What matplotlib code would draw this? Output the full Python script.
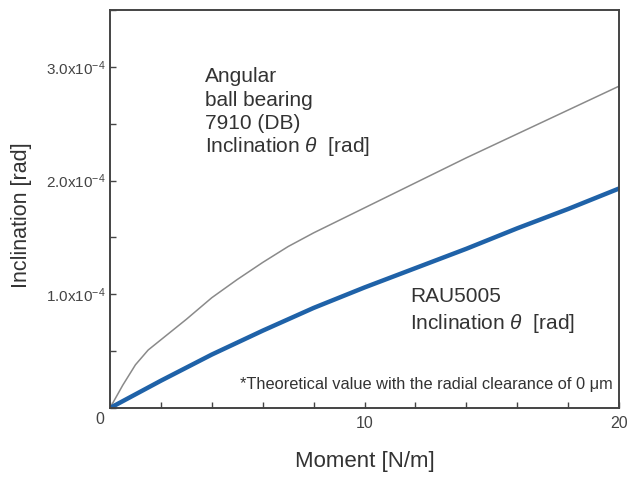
import numpy as np
import matplotlib.pyplot as plt
from matplotlib.ticker import MultipleLocator

plt.rcParams['font.family'] = ['Liberation Sans', 'DejaVu Sans']
plt.rcParams['mathtext.fontset'] = 'custom'
plt.rcParams['mathtext.rm'] = 'Liberation Sans'
plt.rcParams['mathtext.it'] = 'Liberation Sans:italic'

# Moment [N/m]
m_angular = [0, 0.5, 1, 1.5, 2, 3, 4, 5, 6, 7, 8, 10, 12, 14, 16, 18, 20]
# Inclination [x1e-4 rad], angular ball bearing 7910 (DB)
th_angular = [0, 0.2, 0.38, 0.51, 0.6, 0.78, 0.97, 1.13, 1.28, 1.42, 1.54,
              1.76, 1.98, 2.2, 2.41, 2.62, 2.83]
# RAU5005
m_rau = [0, 2, 4, 6, 8, 10, 12, 14, 16, 18, 20]
th_rau = [0, 0.24, 0.47, 0.68, 0.88, 1.06, 1.23, 1.40, 1.58, 1.75, 1.93]

W, H = 635, 483
fig = plt.figure(figsize=(W / 100, H / 100), dpi=100)
ax = fig.add_axes([110 / W, 75 / H, 509 / W, 398 / H])

ax.plot(m_angular, np.array(th_angular) * 1e-4, color='#8a8a8a', lw=1.1)
ax.plot(m_rau, np.array(th_rau) * 1e-4, color='#1f62a8', lw=3.2)

ax.set_xlim(0, 20)
ax.set_ylim(0, 3.5e-4)
ax.set_xticks([10, 20])
ax.set_xticklabels(['10', '20'])
ax.xaxis.set_minor_locator(MultipleLocator(2))
ax.set_yticks([1e-4, 2e-4, 3e-4])
ax.set_yticklabels(['1.0x10$^{-4}$', '2.0x10$^{-4}$', '3.0x10$^{-4}$'])
ax.yaxis.set_minor_locator(MultipleLocator(0.5e-4))
ax.tick_params(which='both', direction='in', color='#444444', width=1, length=4)
ax.tick_params(axis='y', labelsize=11, labelcolor='#444444', pad=3)
ax.tick_params(axis='x', labelsize=11.5, labelcolor='#444444', pad=6)
for s in ax.spines.values():
    s.set_color('#444444')
    s.set_linewidth(1.4)


def px(x, y):
    # pixel position in the figure -> axes fraction
    return (x - 110) / 509, (408 - y) / 398


ax.text(*px(100, 420), '0', ha='center', va='center', fontsize=11.5,
        color='#444444', transform=ax.transAxes, clip_on=False)

ax.set_xlabel('Moment [N/m]', fontsize=16, color='#333333')
ax.xaxis.set_label_coords(*px(365, 461))
ax.xaxis.label.set_va('center')
ax.set_ylabel('Inclination [rad]', fontsize=15.5, color='#333333')
ax.yaxis.set_label_coords(*px(22, 215))
ax.yaxis.label.set_va('center')

angular_lines = ['Angular', 'ball bearing', '7910 (DB)', 'Inclination $\\theta$  [rad]']
for i, t in enumerate(angular_lines):
    ax.text(*px(205, 82 + 23.5 * i), t, fontsize=15, color='#333333',
            va='baseline', ha='left', transform=ax.transAxes)

rau_lines = ['RAU5005', 'Inclination $\\theta$  [rad]']
for i, t in enumerate(rau_lines):
    ax.text(*px(410, 302 + 27 * i), t, fontsize=15, color='#333333',
            va='baseline', ha='left', transform=ax.transAxes)

ax.text(*px(613, 385), '*Theoretical value with the radial clearance of 0 \u03bcm',
        fontsize=11.8, color='#333333', va='center', ha='right',
        transform=ax.transAxes)

fig.savefig('out.png', dpi=100)
